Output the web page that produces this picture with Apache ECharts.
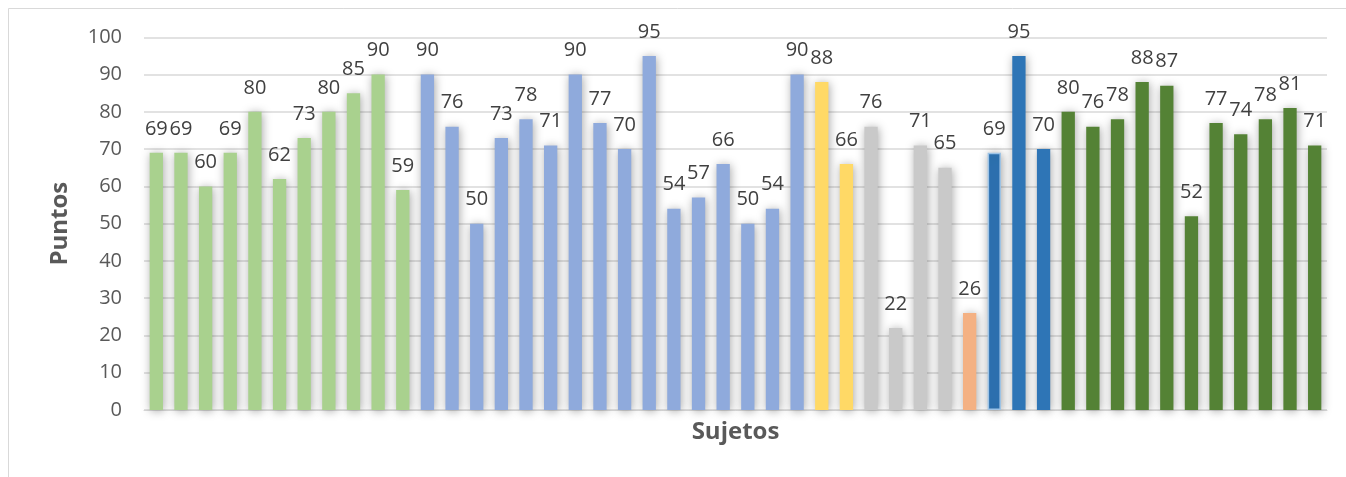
<!DOCTYPE html>
<html>
<head>
<meta charset="utf-8">
<script src="https://cdn.jsdelivr.net/npm/echarts@6/dist/echarts.min.js"></script>
<style>
  html, body { margin: 0; padding: 0; background: #ffffff; }
  #chart { width: 1346px; height: 477px; }
</style>
</head>
<body>
<div id="chart"></div>
<script>
// Puntos por sujeto, agrupados por color
const grupo1 = [69, 69, 60, 69, 80, 62, 73, 80, 85, 90, 59];
const grupo2 = [90, 76, 50, 73, 78, 71, 90, 77, 70, 95, 54, 57, 66, 50, 54, 90];
const grupo3 = [88, 66];
const grupo4 = [76, 22, 71, 65];
const grupo5 = [26];
const grupo6 = [69, 95, 70];
const grupo7 = [80, 76, 78, 88, 87, 52, 77, 74, 78, 81, 71];

const coloresGrupos = ['#a9d18e', '#8faadc', '#ffd966', '#c9c9c9', '#f4b183', '#2e75b6', '#548235'];
const grupos = [grupo1, grupo2, grupo3, grupo4, grupo5, grupo6, grupo7];

const yTicks = [0, 10, 20, 30, 40, 50, 60, 70, 80, 90, 100];

const categorias = [
  '1','2','3','4','5','6','7','8','9','10','11','12','13','14','15','16',
  '17','18','19','20','21','22','23','24','25','26','27','28','29','30','31','32',
  '33','34','35','36','37','38','39','40','41','42','43','44','45','46','47','48'
];

// One data item per subject, coloured by its group
const datos = [];
grupos.forEach((g, gi) => {
  g.forEach((v, vi) => {
    const item = { value: v, itemStyle: { color: coloresGrupos[gi] } };
    if (gi === 5 && vi === 0) {
      item.itemStyle.borderColor = '#9dc3e6';
      item.itemStyle.borderWidth = 1.5;
    }
    datos.push(item);
  });
});

const FONT = '"Open Sans", "Noto Sans", sans-serif';

const chart = echarts.init(document.getElementById('chart'), null, { renderer: 'canvas' });
chart.setOption({
  animation: false,
  backgroundColor: '#ffffff',
  graphic: [{
    type: 'rect',
    shape: { x: 8.5, y: 8.5, width: 1400, height: 600 },
    style: { fill: 'none', stroke: '#d9d9d9', lineWidth: 1 },
    z: -1
  }],
  grid: { left: 144, right: 19, top: 37.3, bottom: 67, containLabel: false },
  xAxis: {
    type: 'category',
    data: categorias,
    name: 'Sujetos',
    nameLocation: 'middle',
    nameGap: 10,
    nameTextStyle: { fontFamily: FONT, fontSize: 24, fontWeight: 'bold', color: '#595959', verticalAlign: 'top' },
    axisLine: { show: true, lineStyle: { color: '#d9d9d9', width: 1 } },
    axisTick: { show: false },
    axisLabel: { show: false },
    splitLine: { show: false }
  },
  yAxis: {
    type: 'value',
    min: yTicks[0],
    max: yTicks[yTicks.length - 1],
    interval: 10,
    name: 'Puntos',
    nameLocation: 'middle',
    nameRotate: 90,
    nameGap: 72,
    nameTextStyle: { fontFamily: FONT, fontSize: 24, fontWeight: 'bold', color: '#595959' },
    axisLine: { show: false },
    axisTick: { show: false },
    axisLabel: { fontFamily: FONT, fontSize: 20, color: '#595959', margin: 22 },
    splitLine: { show: true, lineStyle: { color: '#d9d9d9', width: 1.5 } }
  },
  series: [{
    type: 'bar',
    data: datos,
    barWidth: 13.3,
    itemStyle: {
      shadowBlur: 10,
      shadowColor: 'rgba(0,0,0,0.35)',
      shadowOffsetX: 1,
      shadowOffsetY: 1
    },
    label: {
      show: true,
      position: 'top',
      distance: 14,
      fontFamily: FONT,
      fontSize: 20,
      color: '#404040'
    }
  }]
});
</script>
</body>
</html>
